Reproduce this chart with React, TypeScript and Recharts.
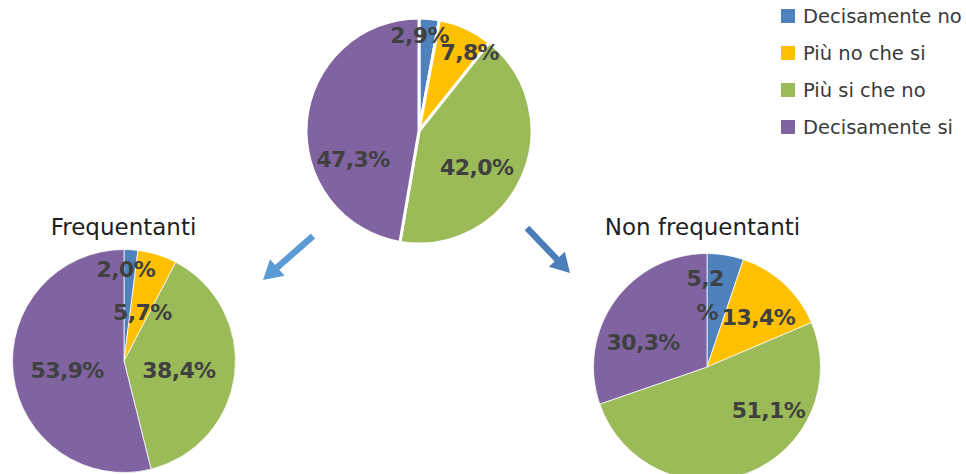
import React from "react";
import { PieChart, Pie, Cell } from "recharts";

const CATEGORIES = ["Decisamente no", "Più no che si", "Più si che no", "Decisamente si"];
const COLORS = ["#4F81BD", "#FFC000", "#9BBB59", "#8064A2"];

// percentuali
const TOTALE = [2.9, 7.8, 42.0, 47.3];
const FREQUENTANTI = [2.0, 5.7, 38.4, 53.9];
const NON_FREQUENTANTI = [5.2, 13.4, 51.1, 30.3];

// label tweaks (excel "best fit" placement), px from the 0.55r point
const NUDGE_TOTALE = [[-5, -34], [25, -22], [1, 11], [-4, 34]];
const NUDGE_FREQ = [[-2, -30], [0, 10], [-6, 2], [4, 2]];
const NUDGE_NON = [[-12, -10], [9, -4], [39, -15], [-13, 12]];

const RAD = Math.PI / 180;
const LABEL_COLOR = "#404040";

const toRows = (values: number[]) =>
  values.map((v, i) => ({ name: CATEGORIES[i], value: v }));

const fmt = (v: number) => v.toFixed(1).replace(".", ",") + "%";

function makeLabel(nudges: number[][], wrapIndex = -1) {
  return (props: any) => {
    const { cx, cy, midAngle, outerRadius, index, value } = props;
    const r = outerRadius * 0.55;
    const x = cx + r * Math.cos(-midAngle * RAD) + nudges[index][0];
    const y = cy + r * Math.sin(-midAngle * RAD) + nudges[index][1];
    const text = fmt(value);
    const common = {
      fill: LABEL_COLOR,
      fontSize: 22,
      fontWeight: 700,
      letterSpacing: -0.6,
      fontFamily: "DejaVu Sans, Verdana, sans-serif",
      textAnchor: "middle" as const,
      dominantBaseline: "central" as const,
    };
    if (index === wrapIndex) {
      const parts = [text.slice(0, -1), "%"];
      return (
        <text {...common} key={`l-${index}`}>
          <tspan x={x} y={y - 17}>{parts[0]}</tspan>
          <tspan x={x + 2} y={y + 17}>{parts[1]}</tspan>
        </text>
      );
    }
    return (
      <text {...common} x={x} y={y} key={`l-${index}`}>
        {text}
      </text>
    );
  };
}

function SinglePie({
  values,
  nudges,
  left,
  top,
  radius,
  strokeWidth,
  wrapIndex,
}: {
  values: number[];
  nudges: number[][];
  left: number;
  top: number;
  radius: number;
  strokeWidth: number;
  wrapIndex?: number;
}) {
  return (
    <div style={{ position: "absolute", left, top }}>
      <PieChart width={240} height={240} margin={{ top: 0, right: 0, bottom: 0, left: 0 }}>
        <Pie
          data={toRows(values)}
          dataKey="value"
          nameKey="name"
          cx={120}
          cy={120}
          outerRadius={radius}
          startAngle={90}
          endAngle={-270}
          labelLine={false}
          label={makeLabel(nudges, wrapIndex)}
          stroke="#fff"
          strokeWidth={strokeWidth}
          isAnimationActive={false}
        >
          {values.map((_, i) => (
            <Cell key={`c-${i}`} fill={COLORS[i]} />
          ))}
        </Pie>
      </PieChart>
    </div>
  );
}

function arrowPoints(x1: number, y1: number, x2: number, y2: number) {
  const dx = x2 - x1;
  const dy = y2 - y1;
  const len = Math.sqrt(dx * dx + dy * dy);
  const ux = dx / len;
  const uy = dy / len;
  const px = -uy;
  const py = ux;
  const shaft = 3.2;
  const head = 11;
  const headLen = 19;
  const bx = x2 - ux * headLen;
  const by = y2 - uy * headLen;
  const pts = [
    [x1 + px * shaft, y1 + py * shaft],
    [bx + px * shaft, by + py * shaft],
    [bx + px * head, by + py * head],
    [x2, y2],
    [bx - px * head, by - py * head],
    [bx - px * shaft, by - py * shaft],
    [x1 - px * shaft, y1 - py * shaft],
  ];
  return pts.map((p) => p.join(",")).join(" ");
}

export default function App() {
  return (
    <div
      style={{
        position: "absolute",
        left: 0,
        top: 0,
        width: 966,
        height: 474,
        overflow: "hidden",
        background: "#fff",
        fontFamily: "DejaVu Sans, Verdana, sans-serif",
      }}
    >
      <svg width={966} height={474} style={{ position: "absolute", left: 0, top: 0 }}>
        <polygon points={arrowPoints(313, 236, 263, 280)} fill="#5B9BD5" />
        <polygon points={arrowPoints(527, 228, 570, 273)} fill="#4A7DBA" />
        <text x={123.5} y={235} fontSize={23} fill="#1f1f1f" textAnchor="middle">
          Frequentanti
        </text>
        <text x={702.5} y={235} fontSize={23} fill="#1f1f1f" textAnchor="middle">
          Non frequentanti
        </text>
        {CATEGORIES.map((c, i) => (
          <g key={c}>
            <rect x={781} y={9 + i * 37} width={14} height={14} fill={COLORS[i]} />
            <text
              x={803}
              y={16 + i * 37}
              fontSize={19.5}
              fill="#3a3a3a"
              dominantBaseline="central"
            >
              {c}
            </text>
          </g>
        ))}
      </svg>
      <SinglePie values={TOTALE} nudges={NUDGE_TOTALE} left={299} top={11} radius={113} strokeWidth={3} />
      <SinglePie values={FREQUENTANTI} nudges={NUDGE_FREQ} left={3.5} top={241} radius={111.5} strokeWidth={0.75} />
      <SinglePie
        values={NON_FREQUENTANTI}
        nudges={NUDGE_NON}
        left={586.5}
        top={246.5}
        radius={113.5}
        strokeWidth={0.75}
        wrapIndex={0}
      />
    </div>
  );
}
